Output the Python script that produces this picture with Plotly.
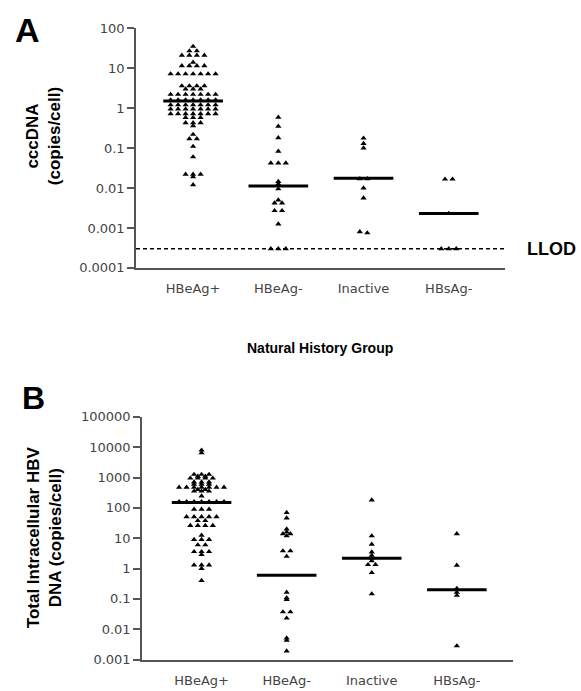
import numpy as np
import plotly.graph_objects as go

groups = ["HBeAg+", "HBeAg-", "Inactive", "HBsAg-"]

# Panel A: cccDNA (copies/cell)
ccc_hbeag_pos = [35, 27, 27, 21, 21, 21, 21, 14, 11.5, 11.5, 11.5, 11.5,
                 7.2, 7.2, 7.2, 7.2, 7.2, 7.2, 7.2, 3.6, 3.6, 3.6, 3.6, 3.0, 3.0, 3.0,
                 2.2, 2.2, 2.2, 2.2, 2.2, 2.2, 2.2, 1.6, 1.6, 1.6, 1.6, 1.6, 1.6, 1.6,
                 1.2, 1.2, 1.2, 1.2, 1.2, 1.2, 1.2, 0.95, 0.95, 0.95, 0.95, 0.95, 0.95, 0.95,
                 0.72, 0.72, 0.72, 0.72, 0.72, 0.72, 0.72, 0.58, 0.58, 0.58, 0.43, 0.43, 0.43,
                 0.36, 0.22, 0.17, 0.17, 0.11, 0.06, 0.022, 0.022, 0.022, 0.019, 0.012]
ccc_hbeag_neg = [0.59, 0.35, 0.18, 0.083, 0.042, 0.042, 0.042, 0.0145, 0.0126, 0.0095,
                 0.005, 0.0042, 0.0042, 0.0027, 0.0027, 0.00125, 0.0003, 0.0003, 0.0003]
ccc_inactive = [0.177, 0.13, 0.1, 0.017, 0.017, 0.01, 0.0056, 0.0008, 0.00075]
ccc_hbsag_neg = [0.0166, 0.0166, 0.0023, 0.0003, 0.0003, 0.0003]
ccc_medians = [1.5, 0.0113, 0.0175, 0.0023]
llod = 0.0003

# Panel B: total intracellular HBV DNA (copies/cell)
dna_hbeag_pos = [8000, 6500, 1270, 1270, 1270, 1100, 1100, 950, 950, 950, 950, 710, 710, 710,
                 600, 600, 600, 475, 475, 475, 475, 475, 475, 475, 400, 400, 355, 355, 355, 245,
                 160, 160, 160, 160, 160, 160, 160, 90, 90, 90, 51, 51, 51, 51, 51, 38, 38,
                 26, 26, 26, 26, 12.5, 9, 9, 9, 6, 6, 3.6, 3.6, 3.6, 2.9, 1.3, 1.3, 1.3, 1.0, 0.4]
dna_hbeag_neg = [70, 46, 20, 16, 14, 14, 11.9, 3.8, 3.8, 2.5, 0.165, 0.108, 0.095,
                 0.037, 0.037, 0.023, 0.0051, 0.0043, 0.0019]
dna_inactive = [181, 11.9, 6.3, 3.5, 2.7, 2.2, 1.8, 1.34, 1.34, 0.73, 0.145]
dna_hbsag_neg = [14, 1.28, 0.22, 0.165, 0.13, 0.0028]
dna_medians = [150, 0.6, 2.2, 0.2]

ytick_a = [0.0001, 0.001, 0.01, 0.1, 1, 10, 100]
ytick_a_text = ["0.0001", "0.001", "0.01", "0.1", "1", "10", "100"]
ytick_b = [0.001, 0.01, 0.1, 1, 10, 100, 1000, 10000, 100000]
ytick_b_text = ["0.001", "0.01", "0.1", "1", "10", "100", "1000", "10000", "100000"]


def swarm(vals, step, thr=0.04):
    order = sorted(vals, reverse=True)
    rows = []
    for v in order:
        if rows and abs(np.log10(rows[-1][0]) - np.log10(v)) < thr:
            rows[-1].append(v)
        else:
            rows.append([v])
    xs, ys = [], []
    for r in rows:
        k = len(r)
        for i, v in enumerate(r):
            xs.append((i - (k - 1) / 2) * step)
            ys.append(v)
    return xs, ys


fig = go.Figure()
mk = dict(symbol="triangle-up", size=5.5, color="black")


def add_panel(series, medians, xa, ya, step):
    for gi, vals in enumerate(series):
        dx, ys = swarm(vals, step)
        fig.add_trace(go.Scatter(x=[gi + 1 + d for d in dx], y=ys, mode="markers",
                                 marker=mk, xaxis=xa, yaxis=ya, hoverinfo="skip"))
        m = medians[gi]
        fig.add_trace(go.Scatter(x=[gi + 1 - 0.35, gi + 1 + 0.35], y=[m, m], mode="lines",
                                 line=dict(color="black", width=3), xaxis=xa, yaxis=ya,
                                 hoverinfo="skip"))


add_panel([ccc_hbeag_pos, ccc_hbeag_neg, ccc_inactive, ccc_hbsag_neg], ccc_medians, "x", "y", 0.088)
add_panel([dna_hbeag_pos, dna_hbeag_neg, dna_inactive, dna_hbsag_neg], dna_medians, "x2", "y2", 0.088)

xr_a = [0.33, 4.66]
fig.add_trace(go.Scatter(x=xr_a, y=[llod, llod], mode="lines",
                         line=dict(color="black", width=1.5, dash="4px,3px"),
                         xaxis="x", yaxis="y", hoverinfo="skip"))

W, H = 581, 691
tickfont = dict(family="DejaVu Sans", size=13, color="#444")
axcol = "#555"

common_y = dict(type="log", showline=True, linecolor=axcol, linewidth=1.5, ticks="outside",
                ticklen=7, tickcolor=axcol, tickwidth=1.5, showgrid=False, zeroline=False,
                tickfont=tickfont)
common_x = dict(showline=True, linecolor=axcol, linewidth=1.5, ticks="outside",
                tickcolor="rgba(0,0,0,0)", showgrid=False, zeroline=False,
                tickvals=[1, 2, 3, 4], ticktext=groups, tickfont=tickfont)

fig.update_layout(
    width=W, height=H, margin=dict(l=0, r=0, t=0, b=0),
    paper_bgcolor="white", plot_bgcolor="white", showlegend=False,
    xaxis=dict(domain=[136 / W, 505 / W], range=xr_a, anchor="y", ticklen=8, **common_x),
    yaxis=dict(domain=[1 - 266.7 / H, 1 - 21.7 / H], range=[-4, 2], anchor="x",
               tickvals=ytick_a, ticktext=ytick_a_text, **common_y),
    xaxis2=dict(domain=[142 / W, 513 / W], range=[0.30, 4.66], anchor="y2", ticklen=8, **common_x),
    yaxis2=dict(domain=[1 - 667 / H, 1 - 419 / H], range=[-3, 5], anchor="x2",
                tickvals=ytick_b, ticktext=ytick_b_text, **common_y),
)

bold = "Liberation Sans, Arial, sans-serif"


def ann(text, px, py, size, angle=0, color="black"):
    fig.add_annotation(text=text, x=px / W, y=1 - py / H, xref="paper", yref="paper",
                       xanchor="center", yanchor="middle", showarrow=False, textangle=angle,
                       font=dict(family=bold, size=size, color=color))


ann("<b>A</b>", 27, 23, 34)
ann("<b>B</b>", 33, 400, 32)
ann("<b>cccDNA<br>(copies/cell)</b>", 43, 132, 17, -90)
ann("<b>Total Intracellular HBV<br>DNA (copies/cell)</b>", 44, 542, 17, -90)
ann("<b>LLOD</b>", 551, 247, 18)
ann("<b>Natural History Group</b>", 320, 349, 14)

fig.write_html("out.html")
